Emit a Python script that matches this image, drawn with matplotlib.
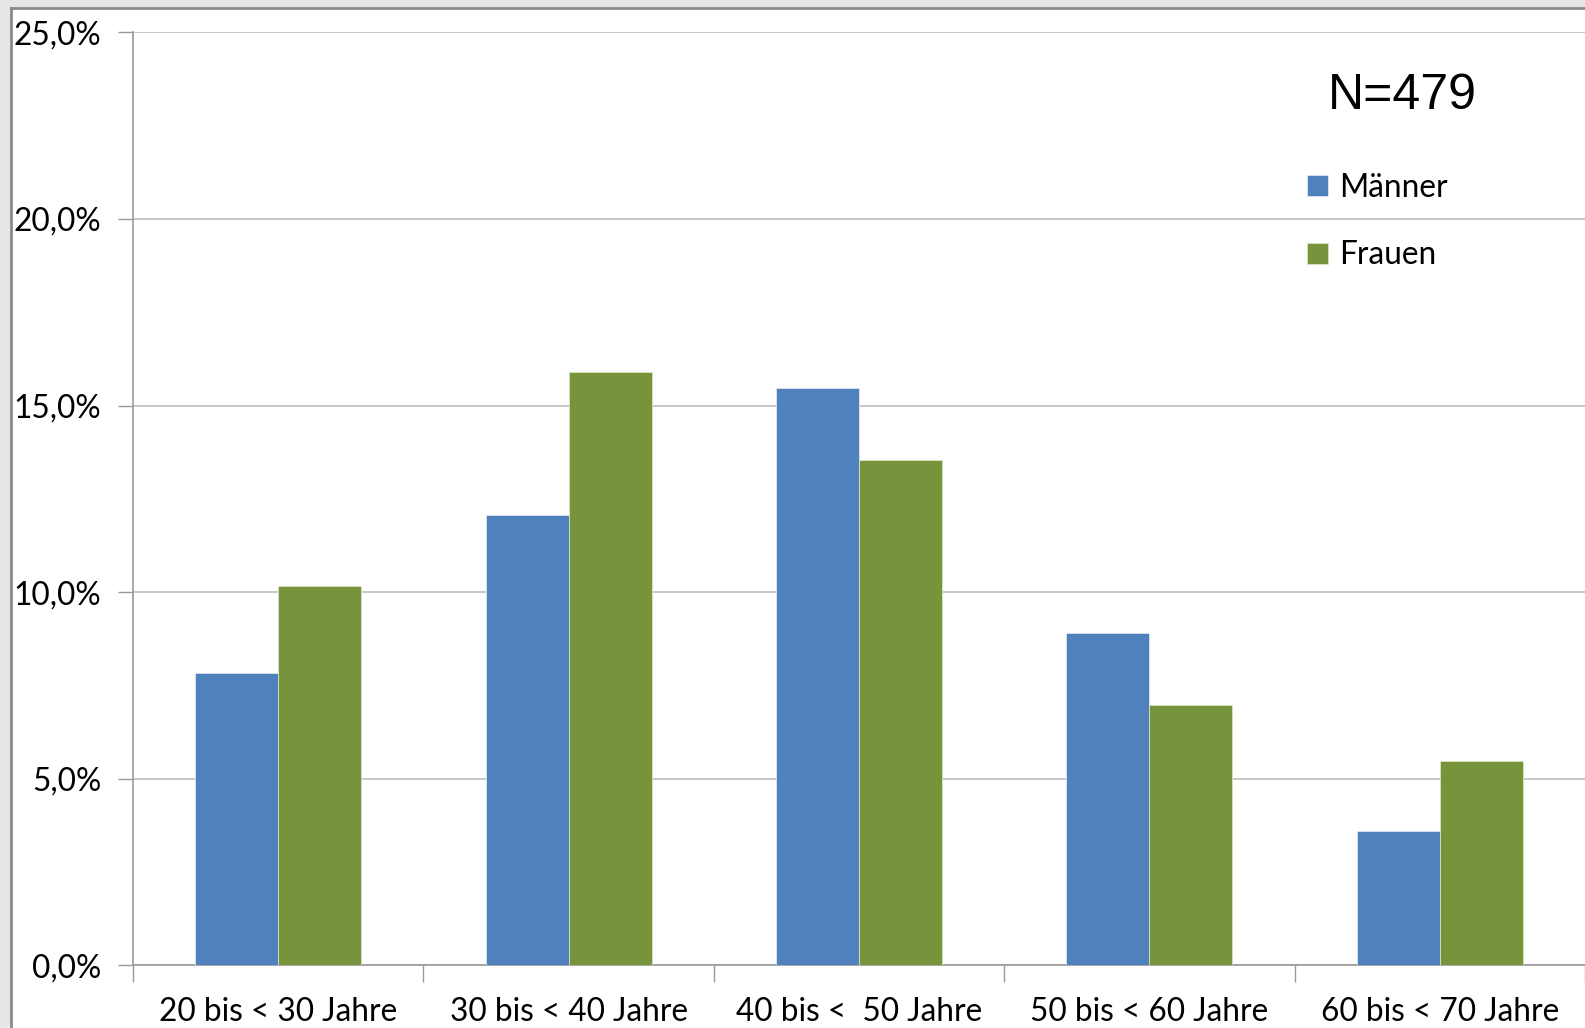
import matplotlib
matplotlib.use("Agg")
import matplotlib.pyplot as plt
from matplotlib.patches import Rectangle
from matplotlib.ticker import FuncFormatter, FixedLocator
import numpy as np

# --- Daten ---
gruppen = ["20 bis < 30 Jahre", "30 bis < 40 Jahre", "40 bis <  50 Jahre",
           "50 bis < 60 Jahre", "60 bis < 70 Jahre"]
maenner = [7.84, 12.06, 15.47, 8.90, 3.59]
frauen = [10.16, 15.89, 13.53, 6.97, 5.48]
n_text = "N=479"

blau = "#4F81BD"
gruen = "#77933C"
schrift = "Lato"
gr = 22.8

W, H = 1585, 1028
fig = plt.figure(figsize=(W / 100, H / 100), dpi=100)
fig.patch.set_facecolor("white")

# grauer Rahmen links/oben wie im Screenshot
fig.patches.append(Rectangle((0, 0), 11 / W, 1, transform=fig.transFigure,
                             facecolor="#e6e6e6", edgecolor="none", zorder=0))
fig.patches.append(Rectangle((0, 1 - 7.5 / H), 1, 7.5 / H, transform=fig.transFigure,
                             facecolor="#e6e6e6", edgecolor="none", zorder=0))
fig.add_artist(plt.Line2D([11 / W, 11 / W], [0, 1 - 7.5 / H], transform=fig.transFigure,
                          color="#8a8a8a", lw=2))
fig.add_artist(plt.Line2D([11 / W, 1], [1 - 7.5 / H, 1 - 7.5 / H], transform=fig.transFigure,
                          color="#8a8a8a", lw=2))

ax = fig.add_axes([133 / W, (H - 965.3) / H, (W - 133) / W, (965.3 - 32.3) / H])

x = np.arange(len(gruppen))
bw = 1 / 3.5
ax.bar(x - bw / 2, maenner, width=bw, color=blau, edgecolor="#dce6f2", linewidth=0.6,
       label="Männer", zorder=3)
ax.bar(x + bw / 2, frauen, width=bw, color=gruen, edgecolor="#d7e4bd", linewidth=0.6,
       label="Frauen", zorder=3)

ax.set_xlim(-0.5, len(gruppen) - 0.5)
ax.set_ylim(0, 25)
ax.set_yticks(np.arange(0, 26, 5))
ax.yaxis.set_major_formatter(FuncFormatter(lambda v, p: f"{v:.1f}%".replace(".", ",")))
ax.yaxis.grid(True, color="#bdbdbd", lw=1.2, zorder=0)
ax.set_axisbelow(True)

ax.set_xticks(x)
ax.set_xticklabels(gruppen, fontsize=gr, family=schrift)
ax.tick_params(axis="x", which="major", length=0, pad=23)
ax.xaxis.set_minor_locator(FixedLocator(np.arange(-0.5, len(gruppen), 1.0)))
ax.tick_params(axis="x", which="minor", length=12, color="#999999", width=1)
ax.tick_params(axis="y", length=11, color="#999999", width=1, pad=12, labelsize=gr)
for t in ax.get_yticklabels():
    t.set_family(schrift)

for s in ["top", "right"]:
    ax.spines[s].set_visible(False)
ax.spines["left"].set_color("#999999")
ax.spines["bottom"].set_color("#999999")
ax.spines["left"].set_linewidth(1.2)
ax.spines["bottom"].set_linewidth(1.2)

fig.text(1402 / W, 1 - 96 / H, n_text, fontsize=36, family="Liberation Sans",
         ha="center", va="center")

leg = ax.legend(loc="upper left", bbox_to_anchor=(1307 / W, 1 - 173 / H),
                bbox_transform=fig.transFigure, frameon=False,
                prop={"family": schrift, "size": gr}, handlelength=0.65,
                handleheight=0.65, handletextpad=0.35, labelspacing=1.18,
                borderpad=0, borderaxespad=0)

fig.savefig("out.png", dpi=100)
